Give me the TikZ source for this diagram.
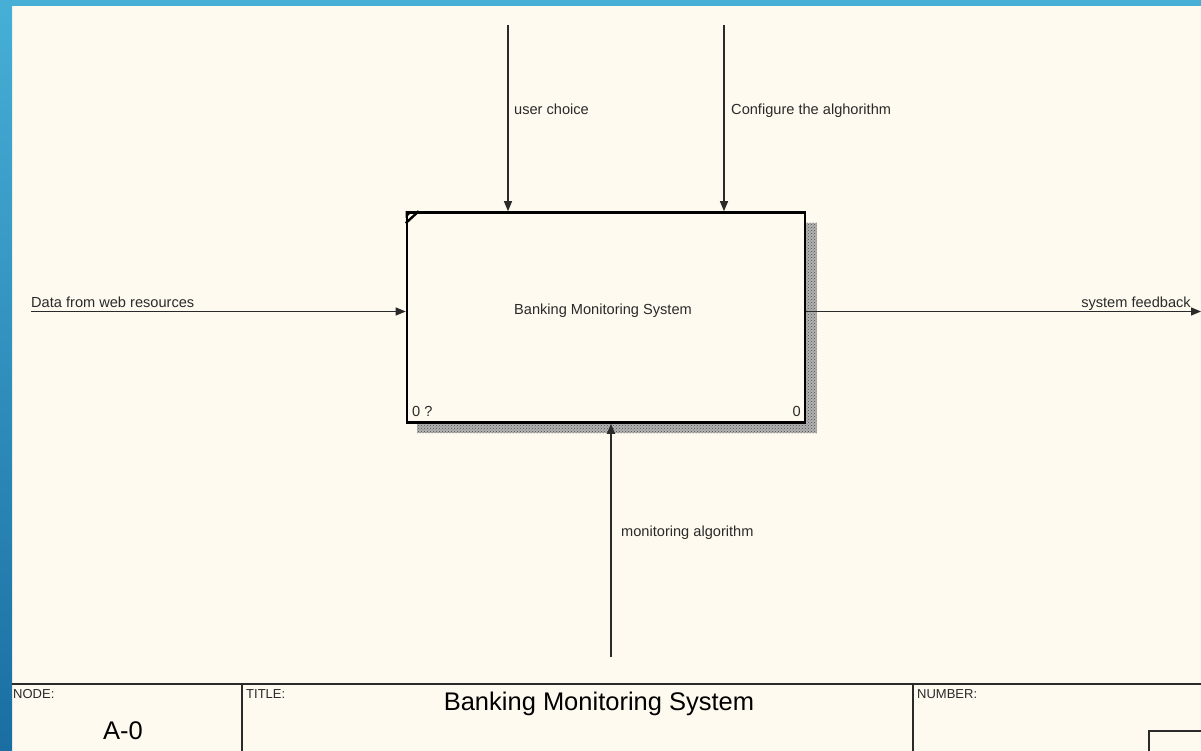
\documentclass[tikz,border=0pt]{standalone}
\usepackage{fontspec}
\setmainfont{Liberation Sans}
\usetikzlibrary{arrows.meta,patterns}
\definecolor{paper}{HTML}{FFFAF0}
\definecolor{bluetop}{HTML}{47AFD6}
\definecolor{bluebot}{HTML}{1A6EA2}
\definecolor{ink}{HTML}{2A2A2A}
\tikzset{
  flow/.style={draw=ink, line width=1.3pt, -{Triangle[length=10pt,width=8pt]}},
  lbl/.style={anchor=base west, inner sep=0pt, text=ink, font=\fontsize{14.6}{16}\selectfont},
  lblr/.style={anchor=base east, inner sep=0pt, text=ink, font=\fontsize{14.6}{16}\selectfont},
  frame/.style={draw=ink, line width=1.2pt},
  flab/.style={anchor=base west, inner sep=0pt, text=ink, font=\fontsize{13}{14}\selectfont},
  actbox/.style={draw=black, line width=2.6pt, fill=paper, minimum width=398pt, minimum height=210pt, inner sep=0pt}
}
\begin{document}
\begin{tikzpicture}[x=1pt,y=-1pt]
\useasboundingbox (0,0) rectangle (1201,751);
\fill[paper] (0,0) rectangle (1201,751);
% blue border
\shade[top color=bluetop, bottom color=bluebot] (0,0) rectangle (12,751);
\fill[bluetop] (0,0) rectangle (1201,6);
% shadow
\fill[black!30] (417,223) rectangle (817,433);
\fill[pattern=crosshatch dots, pattern color=black!70] (417,223) rectangle (817,433);
% box
\node[actbox] (box) at (606,317.5) {};
\draw[line width=2.4pt] ([yshift=-12pt]box.north west) -- ([xshift=13pt]box.north west);
\fill[black] (box.north west) -- ([yshift=-7pt]box.north west) -- ([xshift=7pt]box.north west) -- cycle;
\node[anchor=base, inner sep=0pt, text=ink, font=\fontsize{14.6}{16}\selectfont] (title) at (603,314) {Banking Monitoring System};
\node[lbl] (n0) at (412,416) {0 ?};
\node[lblr] (n1) at (801,416) {0};
% arrows
\coordinate (uc) at (508,25);
\coordinate (cf) at (724,25);
\coordinate (dw) at (31,311.5);
\coordinate (sf) at (1201,311.5);
\coordinate (ma) at (611,657);
\draw[flow] (uc) -- (uc |- box.north);
\draw[flow] (cf) -- (cf |- box.north);
\draw[flow] (dw) -- (dw -| box.west);
\draw[flow] (sf -| box.east) -- (sf);
\draw[flow] (ma) -- (ma |- box.south);
\node[lbl] (luc) at (514,115) {user choice};
\node[lbl] (lcf) at (731,115) {Configure the alghorithm};
\node[lbl] (ldw) at (31,307) {Data from web resources};
\node[lblr] (lsf) at (1191,307) {system feedback};
\node[lbl] (lma) at (621,536) {monitoring algorithm};
% frame
\coordinate (fl) at (12,684);
\coordinate (fr) at (1201,684);
\coordinate (v1) at (242,684);
\coordinate (v2) at (913,684);
\coordinate (v1b) at (242,751);
\coordinate (v2b) at (913,751);
\draw[frame] (fl) -- (fr);
\draw[frame] (v1) -- (v1b);
\draw[frame] (v2) -- (v2b);
\coordinate (sb) at (1149,731);
\coordinate (sbr) at (1201,751);
\draw[frame] (sb |- sbr) -- (sb) -- (sb -| sbr);
\node[flab] (fnode) at (13,698) {NODE:};
\node[flab] (ftitle) at (246,698) {TITLE:};
\node[flab] (fnum) at (917,698) {NUMBER:};
\node[anchor=base, inner sep=0pt, text=black, font=\fontsize{25.5}{28}\selectfont] (a0) at (123,739) {A-0};
\node[anchor=base, inner sep=0pt, text=black, font=\fontsize{25.5}{28}\selectfont] (bigt) at (599,710) {Banking Monitoring System};
\end{tikzpicture}
\end{document}
